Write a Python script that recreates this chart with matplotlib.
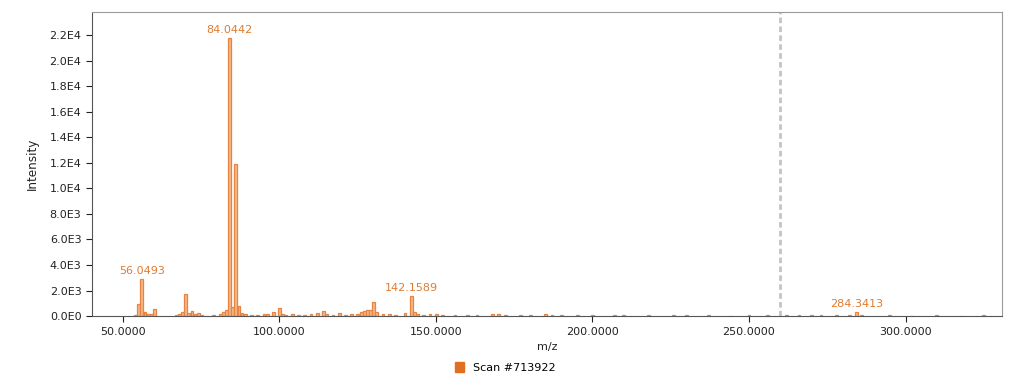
import matplotlib.pyplot as plt
from matplotlib.patches import Patch

# peak list (m/z, intensity)
mz = [54.05, 55.0548, 56.0493, 56.95, 57.07, 58.07, 59.05, 60.04,
      67.05, 68.05, 69.03, 70.0651, 71.05, 72.08, 73.06, 74.06, 75.04,
      79.05, 81.07, 82.06, 83.06, 84.0442, 85.05, 86.0964, 87.08, 88.07,
      89.06, 91.05, 93.07, 95.08, 96.08, 98.06, 100.08, 101.06, 102.05,
      104.07, 106.08, 108.08, 110.07, 112.08, 114.09, 115.06, 117.09,
      119.08, 121.06, 123.08, 125.06, 126.09, 127.08, 128.07, 129.10,
      130.16, 131.10, 133.10, 135.10, 137.08, 140.10, 142.1589, 143.16,
      144.10, 146.10, 148.10, 150.10, 152.10, 156.10, 160.10, 163.10,
      168.10, 170.10, 172.10, 177.10, 180.10, 185.10, 187.10, 190.10,
      195.10, 200.10, 207.0, 210.0, 218.0, 226.0, 230.0, 237.0, 244.0,
      250.0, 256.0, 262.0, 266.0, 270.0, 273.0, 278.0, 282.0, 284.3413,
      286.0, 295.0, 302.0, 310.0, 318.0, 325.0]
intensity = [120, 950, 2900, 300, 250, 200, 150, 550,
             100, 150, 300, 1750, 250, 400, 200, 250, 100,
             80, 150, 350, 450, 21800, 700, 11900, 800, 250,
             150, 120, 100, 200, 150, 300, 650, 150, 100,
             150, 100, 120, 200, 250, 400, 150, 100,
             250, 120, 150, 200, 300, 400, 450, 500,
             1100, 300, 200, 150, 120, 250, 1560, 300,
             150, 100, 150, 200, 120, 100, 80, 100,
             150, 200, 100, 80, 100, 150, 120, 80,
             60, 70, 100, 60, 50, 60, 50, 60, 40,
             60, 50, 60, 70, 50, 60, 80, 120, 320,
             60, 50, 40, 60, 40, 50]

labelled = [56.0493, 84.0442, 142.1589, 284.3413]
marker_mz = 260.0

xticks = [50, 100, 150, 200, 250, 300]
yticks = [0, 2000, 4000, 6000, 8000, 10000, 12000, 14000, 16000, 18000, 20000, 22000]
ytick_labels = ["0.0E0", "2.0E3", "4.0E3", "6.0E3", "8.0E3", "1.0E4",
                "1.2E4", "1.4E4", "1.6E4", "1.8E4", "2.0E4", "2.2E4"]

fig = plt.figure(figsize=(10.1, 3.75), dpi=100)
ax = fig.add_axes([0.091, 0.157, 0.901, 0.811])

ax.bar(mz, intensity, width=0.9, facecolor="#f4b888", edgecolor="#e98440",
       linewidth=0.9, zorder=2)

for m in labelled:
    h = intensity[mz.index(m)]
    ax.annotate(f"{m:.4f}", (m, h), xytext=(0, 2), textcoords="offset points",
                ha="center", va="bottom", color="#e07b30", fontsize=8)

ax.axvline(marker_mz, color="#c4c4c4", lw=2, dashes=(2, 1.2), zorder=1)

ax.set_xlim(40.1, 330.8)
ax.set_ylim(0, 23800)
ax.set_xticks(xticks)
ax.set_xticklabels([f"{t:.4f}" for t in xticks])
ax.set_yticks(yticks)
ax.set_yticklabels(ytick_labels)
ax.tick_params(labelsize=8, colors="#222222", length=4, width=0.8)
for t in ax.get_xticklabels() + ax.get_yticklabels():
    t.set_color("#222222")

for side in ["top", "right"]:
    ax.spines[side].set_color("#9a9a9a")
for side in ["left", "bottom"]:
    ax.spines[side].set_color("#555555")

ax.set_xlabel("m/z", fontsize=8, color="#222222", labelpad=4)
ax.set_ylabel("Intensity", fontsize=9.5, color="#222222", labelpad=8,
              family="DejaVu Sans", fontstretch="condensed")

fig.legend(handles=[Patch(facecolor="#e07020", edgecolor="#e07020")],
           labels=["Scan #713922"], loc="lower center", bbox_to_anchor=(0.5, -0.022),
           frameon=False, fontsize=8, handlelength=0.8, handleheight=1.0,
           handletextpad=0.8)

fig.savefig("out.png", dpi=100)
